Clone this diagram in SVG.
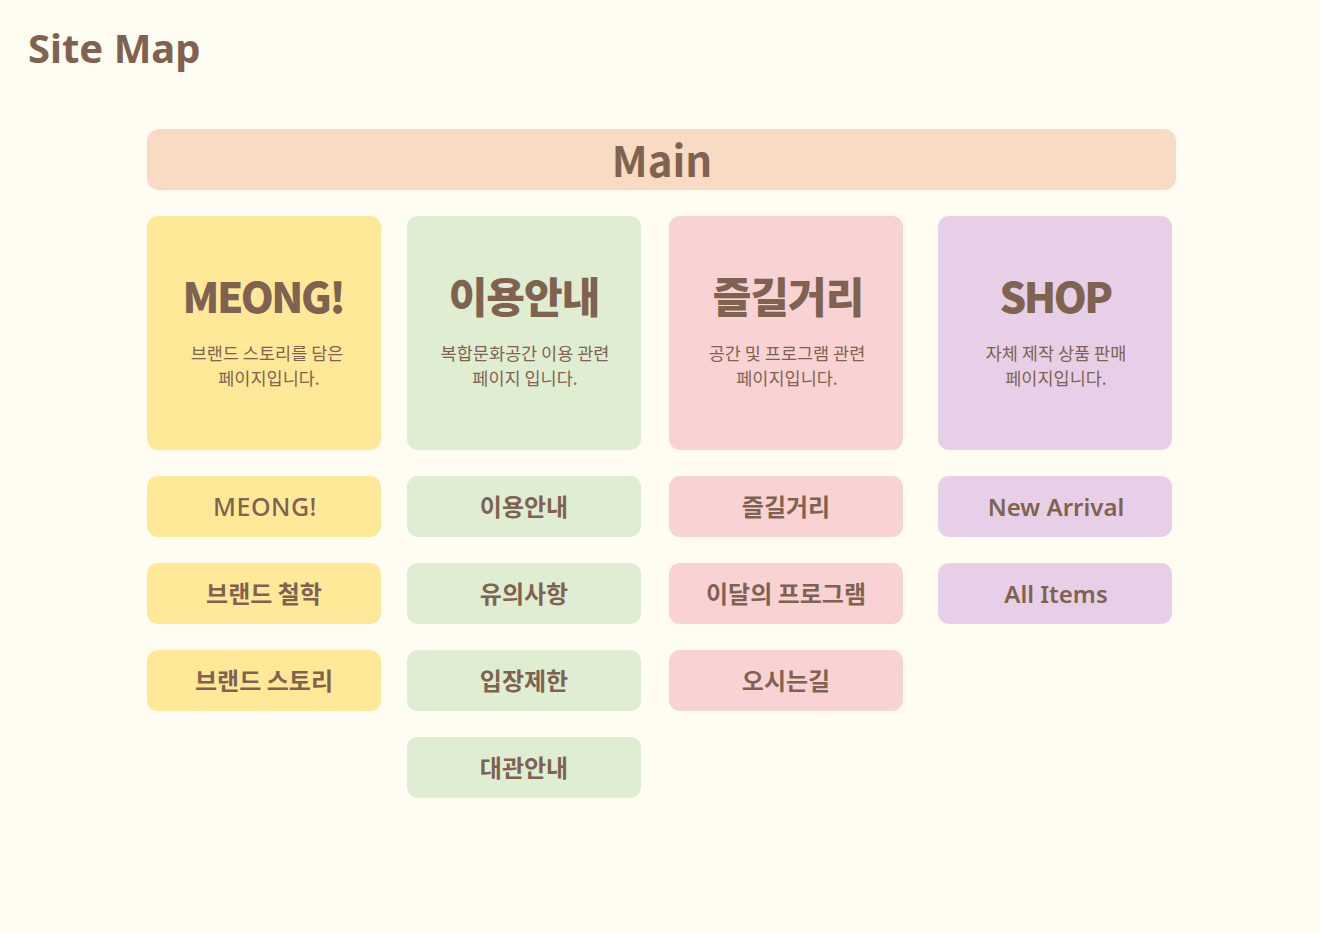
<svg xmlns="http://www.w3.org/2000/svg" width="1320" height="933" viewBox="0 0 1320 933">
<style>
text{fill:#7F6350;font-family:"Noto Sans CJK KR","Noto Sans",sans-serif;text-anchor:middle}
.y{fill:#FFE999}.g{fill:#DFEDD3}.p{fill:#F9D3D4}.v{fill:#E7D0E7}
.ct{font-size:42px;font-weight:900;letter-spacing:-1px}
.cl{letter-spacing:-2.5px}
.cd{font-size:17.5px;font-weight:400}
.it{font-size:24px;font-weight:700}
</style>
<rect width="1320" height="933" fill="#FFFDF2"/>
<text x="28" y="63" style="text-anchor:start;font-size:40px;font-weight:700;font-family:'Noto Sans',sans-serif">Site Map</text>
<g id="main"><rect x="147" y="129" width="1029" height="61" rx="12" fill="#F8DBC2"/><text x="662" y="177" style="font-size:42px;font-weight:700">Main</text></g>
<g id="card-meong"><rect class="y" x="147" y="216" width="234" height="234" rx="11"/><text class="ct cl" x="263" y="313">MEONG!</text><text class="cd" x="267" y="360">브랜드 스토리를 담은</text><text class="cd" x="269" y="385">페이지입니다.</text></g>
<g id="card-info"><rect class="g" x="407" y="216" width="234" height="234" rx="11"/><text class="ct" x="524" y="313">이용안내</text><text class="cd" x="525" y="360">복합문화공간 이용 관련</text><text class="cd" x="525" y="385">페이지 입니다.</text></g>
<g id="card-fun"><rect class="p" x="669" y="216" width="234" height="234" rx="11"/><text class="ct" x="788" y="313">즐길거리</text><text class="cd" x="787" y="360">공간 및 프로그램 관련</text><text class="cd" x="787" y="385">페이지입니다.</text></g>
<g id="card-shop"><rect class="v" x="938" y="216" width="234" height="234" rx="11"/><text class="ct cl" x="1055" y="313">SHOP</text><text class="cd" x="1056" y="360">자체 제작 상품 판매</text><text class="cd" x="1056" y="385">페이지입니다.</text></g>
<g id="i-meong"><rect class="y" x="147" y="476" width="234" height="61" rx="11"/><text class="it" x="265" y="516" style="font-family:'Noto Sans',sans-serif;font-weight:500;font-size:25px;letter-spacing:0.5px">MEONG!</text></g>
<g id="i-phil"><rect class="y" x="147" y="563" width="234" height="61" rx="11"/><text class="it" x="264" y="603">브랜드 철학</text></g>
<g id="i-story"><rect class="y" x="147" y="650" width="234" height="61" rx="11"/><text class="it" x="264" y="690">브랜드 스토리</text></g>
<g id="i-info"><rect class="g" x="407" y="476" width="234" height="61" rx="11"/><text class="it" x="524" y="516">이용안내</text></g>
<g id="i-note"><rect class="g" x="407" y="563" width="234" height="61" rx="11"/><text class="it" x="524" y="603">유의사항</text></g>
<g id="i-limit"><rect class="g" x="407" y="650" width="234" height="61" rx="11"/><text class="it" x="524" y="690">입장제한</text></g>
<g id="i-rent"><rect class="g" x="407" y="737" width="234" height="61" rx="11"/><text class="it" x="524" y="777">대관안내</text></g>
<g id="i-fun"><rect class="p" x="669" y="476" width="234" height="61" rx="11"/><text class="it" x="786" y="516">즐길거리</text></g>
<g id="i-prog"><rect class="p" x="669" y="563" width="234" height="61" rx="11"/><text class="it" x="786" y="603">이달의 프로그램</text></g>
<g id="i-way"><rect class="p" x="669" y="650" width="234" height="61" rx="11"/><text class="it" x="786" y="690">오시는길</text></g>
<g id="i-new"><rect class="v" x="938" y="476" width="234" height="61" rx="11"/><text class="it" x="1056" y="516" style="font-family:'Noto Sans',sans-serif;font-weight:600">New Arrival</text></g>
<g id="i-all"><rect class="v" x="938" y="563" width="234" height="61" rx="11"/><text class="it" x="1056" y="603" style="font-family:'Noto Sans',sans-serif;font-weight:600">All Items</text></g>
<g id="connectors"/>
</svg>
